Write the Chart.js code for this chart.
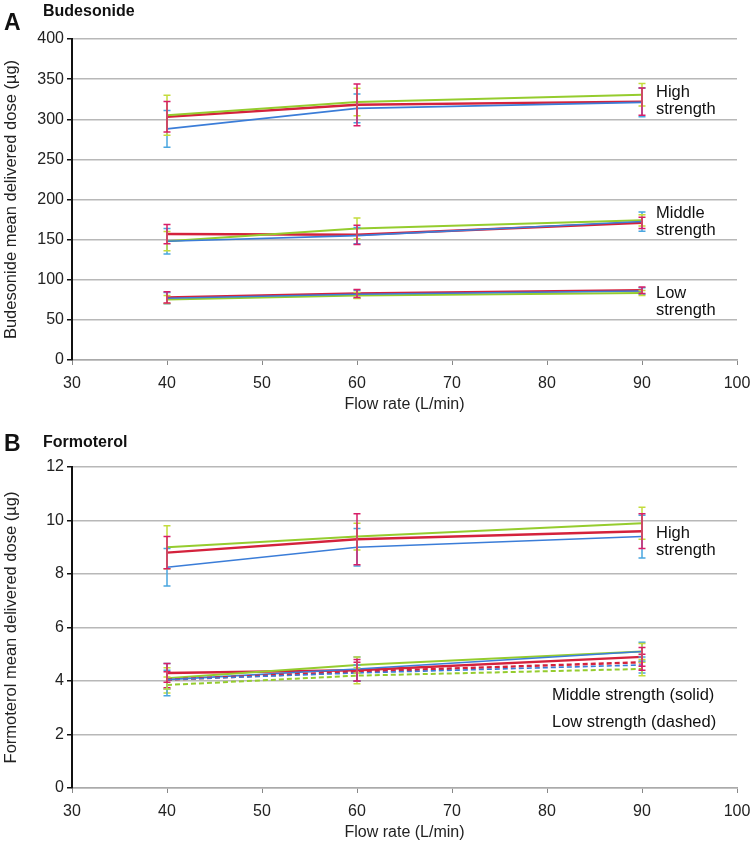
<!DOCTYPE html>
<html>
<head>
<meta charset="utf-8">
<script src="https://cdn.jsdelivr.net/npm/chart.js@4.4.1/dist/chart.umd.min.js"></script>
<style>
  body { margin: 0; background: #fff; font-family: "Liberation Sans", Arial, sans-serif; }
  #wrap { position: relative; width: 750px; height: 846px; overflow: hidden; }
  .panel { position: absolute; left: 0; width: 750px; }
  .letter { position: absolute; font-weight: bold; font-size: 23px; line-height: 26px; color: #111; }
  .title { position: absolute; font-weight: bold; font-size: 16px; line-height: 18px; color: #111; }
  .note { position: absolute; font-size: 16.5px; line-height: 17px; color: #111; white-space: nowrap; }
</style>
</head>
<body>
<div id="wrap">
  <div class="panel" style="top:0;height:423px;"><canvas id="chartA"></canvas></div>
  <div class="panel" style="top:428px;height:418px;"><canvas id="chartB"></canvas></div>

  <div class="letter" style="left:4px;top:9px;">A</div>
  <div class="title" style="left:43px;top:2px;">Budesonide</div>
  <div class="letter" style="left:4px;top:430px;">B</div>
  <div class="title" style="left:43px;top:433px;">Formoterol</div>

  <div class="note" style="left:656px;top:83px;">High<br>strength</div>
  <div class="note" style="left:656px;top:204px;">Middle<br>strength</div>
  <div class="note" style="left:656px;top:284px;">Low<br>strength</div>

  <div class="note" style="left:656px;top:524px;">High<br>strength</div>
  <div class="note" style="left:552px;top:686px;">Middle strength (solid)</div>
  <div class="note" style="left:552px;top:713px;">Low strength (dashed)</div>
</div>

<script>
// flow rates (L/min)
const flowRates = [40, 60, 90];

// Panel A - budesonide (ug), mean and +/- error
const budHighBlue = [288, 313.5, 321];
const budHighBlueErr = [23, 18, 18];
const budHighGreen = [305, 321.5, 330.5];
const budHighGreenErr = [25, 17, 14];
const budHighRed = [303, 318, 322];
const budHighRedErr = [19, 26, 17];

const budMidBlue = [148, 155, 172.5];
const budMidBlueErr = [16, 10, 12];
const budMidGreen = [148, 164, 174];
const budMidGreenErr = [12, 13, 7];
const budMidRed = [157, 156, 171];
const budMidRedErr = [12, 12, 7];

const budLowBlue = [77, 82, 86];
const budLowBlueErr = [7, 5, 4];
const budLowGreen = [75.5, 80.5, 83.5];
const budLowGreenErr = [5, 4, 3];
const budLowRed = [78, 83, 87];
const budLowRedErr = [7, 5, 4];

// Panel B - formoterol (ug)
const forHighBlue = [8.25, 9.0, 9.4];
const forHighBlueErr = [0.7, 0.7, 0.8];
const forHighGreen = [9.0, 9.4, 9.9];
const forHighGreenErr = [0.8, 0.5, 0.6];
const forHighRed = [8.8, 9.3, 9.6];
const forHighRedErr = [0.6, 0.95, 0.65];

const forMidBlue = [4.05, 4.45, 5.1];
const forMidBlueErr = [0.6, 0.45, 0.35];
const forMidGreen = [4.1, 4.6, 5.1];
const forMidGreenErr = [0.4, 0.3, 0.3];
const forMidRed = [4.3, 4.4, 4.9];
const forMidRedErr = [0.35, 0.4, 0.35];

const forLowBlue = [4.05, 4.3, 4.6];
const forLowBlueErr = [0.35, 0.3, 0.3];
const forLowGreen = [3.85, 4.2, 4.45];
const forLowGreenErr = [0.3, 0.3, 0.25];
const forLowRed = [4.05, 4.35, 4.7];
const forLowRedErr = [0.3, 0.35, 0.3];

const xTicks = [30, 40, 50, 60, 70, 80, 90, 100];

const colors = {
    blue:  { line: '#3b7dd8', err: '#4aa6e0', width: 1.6 },
    green: { line: '#95cc2e', err: '#c3dc3c', width: 2 },
    red:   { line: '#d4223c', err: '#d81e68', width: 2.4 }
};

function series(vals, errs, col, dashed) {
    const c = colors[col];
    return {
        data: vals.map((v, i) => ({ x: flowRates[i], y: v })),
        errors: errs,
        errColor: c.err,
        borderColor: c.line,
        borderWidth: c.width,
        borderDash: dashed ? [5, 3] : [],
        pointRadius: 0,
        fill: false,
        tension: 0
    };
}

// draws the error bars through the chart scales
const errorBars = {
    id: 'errorBars',
    afterDatasetsDraw(chart) {
        const ctx = chart.ctx;
        const xs = chart.scales.x, ys = chart.scales.y;
        ctx.save();
        chart.data.datasets.forEach(ds => {
            ds.data.forEach((p, i) => {
                const e = ds.errors[i];
                const px = xs.getPixelForValue(p.x);
                const top = ys.getPixelForValue(p.y + e);
                const bot = ys.getPixelForValue(p.y - e);
                ctx.strokeStyle = ds.errColor;
                ctx.lineWidth = 1.5;
                ctx.beginPath();
                ctx.moveTo(px, top); ctx.lineTo(px, bot);
                ctx.moveTo(px - 3.5, top); ctx.lineTo(px + 3.5, top);
                ctx.moveTo(px - 3.5, bot); ctx.lineTo(px + 3.5, bot);
                ctx.stroke();
            });
        });
        ctx.restore();
    }
};

const font = { family: 'Liberation Sans', size: 16 };

function makeChart(id, datasets, yMax, yStep, yTitle, padBottom) {
    return new Chart(document.getElementById(id), {
        type: 'line',
        data: { datasets },
        plugins: [errorBars],
        options: {
            responsive: true,
            maintainAspectRatio: false,
            animation: false,
            layout: { padding: { top: 39, right: 0, bottom: padBottom, left: 0 } },
            plugins: { legend: { display: false }, tooltip: { enabled: false } },
            scales: {
                x: {
                    type: 'linear',
                    min: 30, max: 100,
                    afterBuildTicks: s => { s.ticks = xTicks.map(v => ({ value: v })); },
                    afterFit: s => { s.height = 54; s.paddingRight = 13; s.paddingLeft = 0; },
                    grid: { drawOnChartArea: false, drawTicks: true, tickLength: 5, tickColor: '#888' },
                    border: { color: '#aaa', width: 1.5 },
                    ticks: { color: '#222', font, padding: 9, maxRotation: 0 },
                    title: { display: true, text: 'Flow rate (L/min)', color: '#222',
                             font, padding: { top: 0, bottom: 0 } }
                },
                y: {
                    min: 0, max: yMax,
                    ticks: { stepSize: yStep, color: '#222', font, padding: 3 },
                    afterFit: s => { s.width = 72; },
                    grid: { color: '#b8b8b8', lineWidth: 1.5, drawTicks: true, tickLength: 5, tickColor: '#111' },
                    border: { color: '#111', width: 2 },
                    title: { display: true, text: yTitle, color: '#222',
                             font: { family: 'Liberation Sans', size: 16.5 }, padding: { top: 2, bottom: 0 } }
                }
            }
        }
    });
}

makeChart('chartA', [
    series(budHighBlue, budHighBlueErr, 'blue'),
    series(budHighGreen, budHighGreenErr, 'green'),
    series(budHighRed, budHighRedErr, 'red'),
    series(budMidBlue, budMidBlueErr, 'blue'),
    series(budMidGreen, budMidGreenErr, 'green'),
    series(budMidRed, budMidRedErr, 'red'),
    series(budLowBlue, budLowBlueErr, 'blue'),
    series(budLowGreen, budLowGreenErr, 'green'),
    series(budLowRed, budLowRedErr, 'red')
], 400, 50, 'Budesonide mean delivered dose (\u00b5g)', 9);

makeChart('chartB', [
    series(forHighBlue, forHighBlueErr, 'blue'),
    series(forHighGreen, forHighGreenErr, 'green'),
    series(forHighRed, forHighRedErr, 'red'),
    series(forLowBlue, forLowBlueErr, 'blue', true),
    series(forLowGreen, forLowGreenErr, 'green', true),
    series(forLowRed, forLowRedErr, 'red', true),
    series(forMidBlue, forMidBlueErr, 'blue'),
    series(forMidGreen, forMidGreenErr, 'green'),
    series(forMidRed, forMidRedErr, 'red')
], 12, 2, 'Formoterol mean delivered dose (\u00b5g)', 4);
</script>
</body>
</html>
